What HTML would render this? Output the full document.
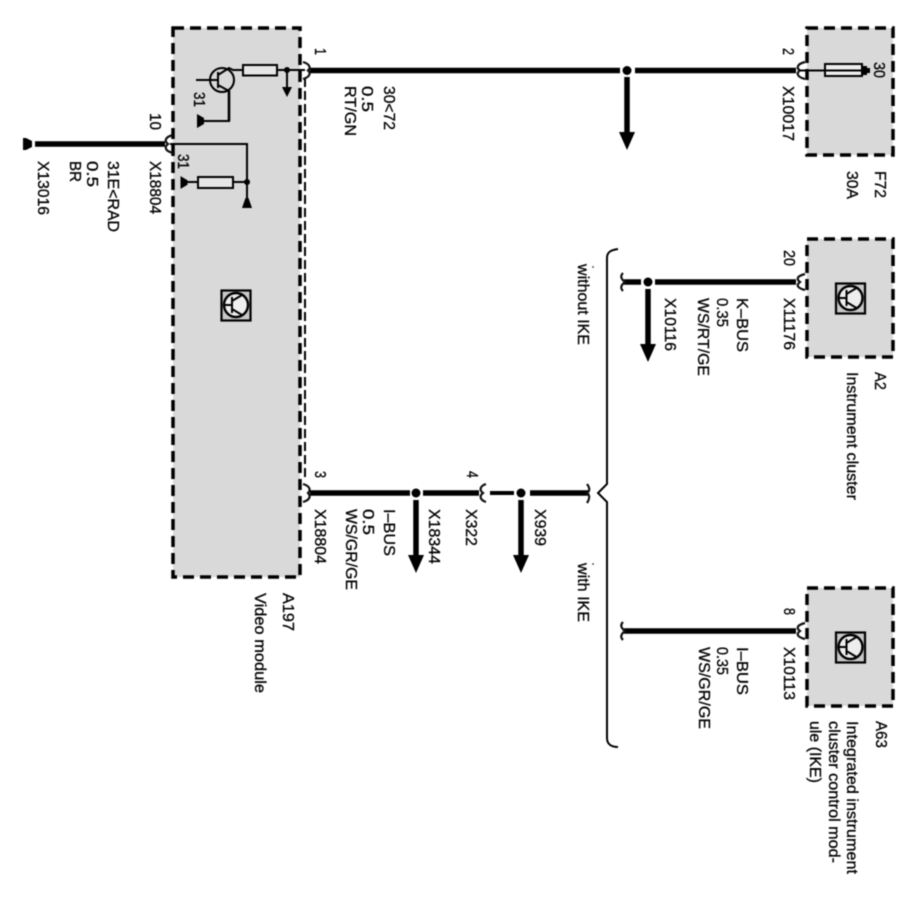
<!DOCTYPE html>
<html><head><meta charset="utf-8"><style>
html,body{margin:0;padding:0;background:#fff;width:924px;height:897px;overflow:hidden}
svg{display:block;filter:blur(.5px)}
text{font-family:"Liberation Sans",sans-serif;font-size:16px;fill:#000;stroke:#000;stroke-width:.3px}
.box{fill:#d9d9d9;stroke:#000;stroke-width:3.5;stroke-dasharray:11 6}
.w{stroke:#000;stroke-width:5.5;fill:none}
.t{stroke:#000;stroke-width:2;fill:none}
.c{stroke:#111;stroke-width:2.2;fill:none}
.r{fill:#e6e6e6;stroke:#000;stroke-width:2}
</style></head><body>
<svg width="924" height="897" viewBox="0 0 924 897" xmlns="http://www.w3.org/2000/svg">
<defs>
<g id="ic"><rect x="0.5" y="0.5" width="29" height="30" fill="#c8c8c8" stroke="#000" stroke-width="2.2"/><circle cx="15" cy="15" r="12" fill="#eee" stroke="#000" stroke-width="2.4"/><path d="M3 15H11M11 7V23M11 11L21 5M11 19L21 25" fill="none" stroke="#000" stroke-width="2"/></g>
<g id="arr"><path d="M0 0V56" stroke="#000" stroke-width="5.5"/><path d="M-8 55H8L0 73Z" fill="#000"/></g>
</defs>

<rect class="box" x="173" y="28" width="127" height="549"/>
<path d="M305 78V480" stroke="#000" stroke-width="2" stroke-dasharray="9 4" fill="none"/>
<rect class="box" x="807" y="28" width="86" height="127"/>
<rect class="box" x="807" y="239" width="86" height="118"/>
<rect class="box" x="807" y="588" width="86" height="118"/>

<!-- main wires -->
<path class="w" d="M310 70.500H620M635 70.500H796"/>
<path class="w" d="M35 144H165"/>
<path class="w" d="M310 493H410M423 493H479M530 493H588"/>
<path d="M490 493H514" stroke="#000" stroke-width="4"/>
<path class="w" d="M624 282H641M655 282H796"/>
<path class="w" d="M624 631H796"/>

<!-- connector marks -->
<path class="c" d="M303 62C310 64 311 68 308 70.500C311 73 310 77 303 79"/>
<path class="c" d="M805 62C797 64 796 68 800 70.500C796 73 797 77 805 79"/>
<path class="c" d="M173 135C165 137 164 141 168 144C164 147 165 151 173 153"/>
<path class="c" d="M303 484C310 486 311 490 308 493C311 496 310 500 303 502"/>
<path class="c" d="M486 484C480 486 479 490 483 493C479 496 480 500 486 502"/>
<path class="c" d="M587 484C590 488 590 491 587 493C590 495 590 498 587 503"/>
<path class="c" d="M805 274C797 276 796 279 800 282C796 285 797 288 805 290"/>
<path class="c" d="M623 273C620 276 621 279 625 282C621 285 620 288 623 291"/>
<path class="c" d="M805 623C797 625 796 628 800 631C796 634 797 637 805 639"/>
<path class="c" d="M623 622C620 625 621 628 625 631C621 634 620 637 623 640"/>

<!-- brace -->
<path class="t" d="M618 249C611 250 607 252 607 258V484L598 493L607 502V738C607 744 611 747 618 747"/>

<!-- dots & arrows -->
<circle cx="627" cy="70.500" r="4.500" fill="#000"/><use href="#arr" x="627" y="77"/>
<circle cx="648" cy="282" r="4.500" fill="#000"/><use href="#arr" x="648" y="289"/>
<circle cx="416" cy="493" r="4.500" fill="#000"/><use href="#arr" x="416" y="500"/>
<circle cx="521" cy="493" r="4.500" fill="#000"/><use href="#arr" x="521" y="500"/>

<!-- ground terminal left -->
<path d="M23 138H26L32 141V147L26 150H23Z" fill="#000"/>

<!-- fuse -->
<path class="t" d="M800 70.500H864"/>
<rect x="825" y="64" width="37" height="12" fill="#eee" stroke="#000" stroke-width="2"/>
<path class="t" d="M825 70.500H862" stroke-width="1.500"/>
<path d="M862 66H867V68H870V73H867V75H862Z" fill="#000"/>

<!-- transistor section -->
<circle cx="222" cy="80" r="12" fill="none" stroke="#000" stroke-width="2"/>
<path class="t" d="M196 80H218M218 72V88M218 75L229 68L233 70H243M277 70H305M218 85L229 91V121H199"/>
<path d="M229 91V121" stroke="#000" stroke-width="2.600"/>
<rect class="r" x="243" y="65" width="34" height="10.500"/>
<circle cx="287" cy="70" r="3" fill="#000"/>
<path class="t" d="M287 70V88"/>
<path d="M282 87H292L287 97Z" fill="#000"/>
<path d="M197 114V128L204 124V118Z" fill="#000"/>

<!-- lower internal -->
<path class="t" d="M170 144H247V200M181 182H198M233 182H247"/>
<rect class="r" x="198" y="177" width="35" height="11"/>
<circle cx="247" cy="182" r="3" fill="#000"/>
<path d="M242 208H252L248.500 198H245.500Z" fill="#000"/>
<path d="M181 177V188L187 184.500V180.500Z" fill="#000" stroke="#000" stroke-width="1"/>

<use href="#ic" x="221" y="290"/>
<use href="#ic" x="835.500" y="283"/>
<use href="#ic" x="835.500" y="632"/>

<circle cx="593" cy="564" r=".9" fill="#333"/>
<circle cx="593" cy="267" r=".9" fill="#333"/>

<!-- labels -->
<text transform="translate(315,48) rotate(90)" textLength="7" lengthAdjust="spacingAndGlyphs">1</text>
<text transform="translate(384,86) rotate(90)" textLength="44" lengthAdjust="spacingAndGlyphs">30&lt;72</text>
<text transform="translate(362,86) rotate(90)" textLength="26" lengthAdjust="spacingAndGlyphs">0.5</text>
<text transform="translate(345,86) rotate(90)" textLength="50" lengthAdjust="spacingAndGlyphs">RT/GN</text>
<text transform="translate(150,113) rotate(90)" textLength="17" lengthAdjust="spacingAndGlyphs">10</text>
<text transform="translate(150,161) rotate(90)" textLength="53" lengthAdjust="spacingAndGlyphs">X18804</text>
<text transform="translate(108,161) rotate(90)" textLength="71" lengthAdjust="spacingAndGlyphs">31E&lt;RAD</text>
<text transform="translate(87,161) rotate(90)" textLength="26" lengthAdjust="spacingAndGlyphs">0.5</text>
<text transform="translate(70,161) rotate(90)" textLength="21" lengthAdjust="spacingAndGlyphs">BR</text>
<text transform="translate(38,161) rotate(90)" textLength="54" lengthAdjust="spacingAndGlyphs">X13016</text>
<text transform="translate(194,92) rotate(90)" textLength="15" lengthAdjust="spacingAndGlyphs">31</text>
<text transform="translate(178,154) rotate(90)" textLength="15" lengthAdjust="spacingAndGlyphs">31</text>

<text transform="translate(315,471) rotate(90)" textLength="7" lengthAdjust="spacingAndGlyphs">3</text>
<text transform="translate(315,509) rotate(90)" textLength="55" lengthAdjust="spacingAndGlyphs">X18804</text>
<text transform="translate(384,509) rotate(90)" textLength="47" lengthAdjust="spacingAndGlyphs">I–BUS</text>
<text transform="translate(363,509) rotate(90)" textLength="26" lengthAdjust="spacingAndGlyphs">0.5</text>
<text transform="translate(346,509) rotate(90)" textLength="81" lengthAdjust="spacingAndGlyphs">WS/GR/GE</text>
<text transform="translate(429,509) rotate(90)" textLength="55" lengthAdjust="spacingAndGlyphs">X18344</text>
<text transform="translate(467,471) rotate(90)" textLength="7" lengthAdjust="spacingAndGlyphs">4</text>
<text transform="translate(466,509) rotate(90)" textLength="37" lengthAdjust="spacingAndGlyphs">X322</text>
<text transform="translate(535,509) rotate(90)" textLength="37" lengthAdjust="spacingAndGlyphs">X939</text>
<text transform="translate(578,563) rotate(90)" textLength="59" lengthAdjust="spacingAndGlyphs">with IKE</text>
<text transform="translate(283,593) rotate(90)" textLength="38" lengthAdjust="spacingAndGlyphs">A197</text>
<text transform="translate(255,593) rotate(90)" textLength="100" lengthAdjust="spacingAndGlyphs">Video module</text>

<text transform="translate(783,48) rotate(90)" textLength="7" lengthAdjust="spacingAndGlyphs">2</text>
<text transform="translate(783,86) rotate(90)" textLength="55" lengthAdjust="spacingAndGlyphs">X10017</text>
<text transform="translate(874,62) rotate(90)" textLength="16" lengthAdjust="spacingAndGlyphs">30</text>
<text transform="translate(875,171) rotate(90)" textLength="27" lengthAdjust="spacingAndGlyphs">F72</text>
<text transform="translate(847,171) rotate(90)" textLength="28" lengthAdjust="spacingAndGlyphs">30A</text>

<text transform="translate(784,250) rotate(90)" textLength="16" lengthAdjust="spacingAndGlyphs">20</text>
<text transform="translate(784,298) rotate(90)" textLength="52" lengthAdjust="spacingAndGlyphs">X11176</text>
<text transform="translate(737,298) rotate(90)" textLength="54" lengthAdjust="spacingAndGlyphs">K–BUS</text>
<text transform="translate(717,298) rotate(90)" textLength="29" lengthAdjust="spacingAndGlyphs">0.35</text>
<text transform="translate(698,298) rotate(90)" textLength="78" lengthAdjust="spacingAndGlyphs">WS/RT/GE</text>
<text transform="translate(665,298) rotate(90)" textLength="53" lengthAdjust="spacingAndGlyphs">X10116</text>
<text transform="translate(875,372) rotate(90)" textLength="18" lengthAdjust="spacingAndGlyphs">A2</text>
<text transform="translate(847,372) rotate(90)" textLength="128" lengthAdjust="spacingAndGlyphs">Instrument cluster</text>
<text transform="translate(578,264) rotate(90)" textLength="81" lengthAdjust="spacingAndGlyphs">without IKE</text>

<text transform="translate(784,608) rotate(90)" textLength="7" lengthAdjust="spacingAndGlyphs">8</text>
<text transform="translate(784,647) rotate(90)" textLength="53" lengthAdjust="spacingAndGlyphs">X10113</text>
<text transform="translate(737,647) rotate(90)" textLength="48" lengthAdjust="spacingAndGlyphs">I–BUS</text>
<text transform="translate(717,647) rotate(90)" textLength="28" lengthAdjust="spacingAndGlyphs">0.35</text>
<text transform="translate(699,647) rotate(90)" textLength="82" lengthAdjust="spacingAndGlyphs">WS/GR/GE</text>
<text transform="translate(876,721) rotate(90)" textLength="27" lengthAdjust="spacingAndGlyphs">A63</text>
<text transform="translate(847,721) rotate(90)" textLength="153" lengthAdjust="spacingAndGlyphs">Integrated instrument</text>
<text transform="translate(829,721) rotate(90)" textLength="142" lengthAdjust="spacingAndGlyphs">cluster control mod-</text>
<text transform="translate(810,721) rotate(90)" textLength="62" lengthAdjust="spacingAndGlyphs">ule (IKE)</text>
</svg>
</body></html>
